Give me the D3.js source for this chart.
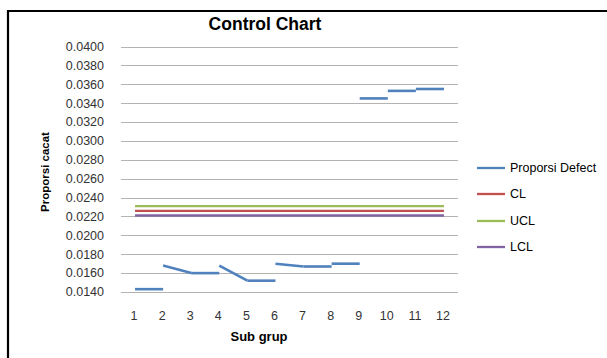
<!DOCTYPE html>
<html><head><meta charset="utf-8">
<script src="https://cdn.jsdelivr.net/npm/d3@7"></script>
<style>body{margin:0;background:#fff}svg{display:block}text{font-family:"Liberation Sans",Arial,sans-serif}</style>
</head><body>
<svg id="c" width="607" height="358"></svg>
<script>
const categories = [1,2,3,4,5,6,7,8,9,10,11,12];
const yTicks = [0.014,0.016,0.018,0.020,0.022,0.024,0.026,0.028,0.030,0.032,0.034,0.036,0.038,0.040];
// Proporsi Defect drawn as disconnected segments: value at subgroup i (start) and at i+1 (end)
const defectStart = [0.0143,0.0168,0.0160,0.0168,0.0152,0.0170,0.0167,0.0170,0.0345,0.0353,0.0355];
const defectEnd   = [0.0143,0.0160,0.0160,0.0152,0.0152,0.0167,0.0167,0.0170,0.0345,0.0353,0.0355];
const clValues  = categories.map(() => 0.0226);
const uclValues = categories.map(() => 0.0231);
const lclValues = categories.map(() => 0.0221);
const legendNames = ["Proporsi Defect","CL","UCL","LCL"];
const colors = {"Proporsi Defect":"#4f81bd","CL":"#c0504d","UCL":"#9bbb59","LCL":"#8064a2"};

const svg = d3.select("#c");
// outer frame (top and left border visible)
svg.append("line").attr("x1",7).attr("x2",607).attr("y1",11).attr("y2",11).attr("stroke","#000").attr("stroke-width",2.2);
svg.append("line").attr("x1",8).attr("x2",8).attr("y1",10).attr("y2",358).attr("stroke","#000").attr("stroke-width",2.2);

const x = d3.scaleBand().domain(categories).range([121,458]);
const cx = c => x(c) + x.bandwidth()/2;
const y = d3.scaleLinear().domain([0.014,0.040]).range([292,46.5]);

// gridlines
svg.append("g").selectAll("line").data(yTicks).join("line")
  .attr("x1",121).attr("x2",458).attr("y1",d=>Math.round(y(d))+0.5).attr("y2",d=>Math.round(y(d))+0.5)
  .attr("stroke","#b3b3b3").attr("stroke-width",1);

// y tick labels
svg.append("g").selectAll("text").data(yTicks).join("text")
  .attr("x",104).attr("y",d=>y(d)).attr("dy","0.35em").attr("text-anchor","end")
  .attr("font-size",12.5).attr("fill","#333").text(d=>d3.format(".4f")(d));

// x tick labels
svg.append("g").selectAll("text").data(categories).join("text")
  .attr("x",d=>cx(d)-1).attr("y",316).attr("dy","0.35em").attr("text-anchor","middle")
  .attr("font-size",12.5).attr("fill","#333").text(d=>d);

// control lines
const line = d3.line().x(d=>cx(d[0])).y(d=>y(d[1]));
[["UCL",uclValues],["CL",clValues],["LCL",lclValues]].forEach(([n,vals])=>{
  svg.append("path").datum(categories.map((c,i)=>[c,vals[i]]))
    .attr("d",line).attr("fill","none").attr("stroke",colors[n]).attr("stroke-width",2.3);
});

// defect segments
svg.append("g").selectAll("line").data(defectStart.map((v,i)=>({a:categories[i],b:categories[i+1],va:v,vb:defectEnd[i]})))
  .join("line")
  .attr("x1",d=>cx(d.a)).attr("x2",d=>cx(d.b)).attr("y1",d=>y(d.va)).attr("y2",d=>y(d.vb))
  .attr("stroke",colors["Proporsi Defect"]).attr("stroke-width",2.6);

// title
svg.append("text").attr("x",265).attr("y",30).attr("text-anchor","middle")
  .attr("font-size",17.5).attr("font-weight","bold").attr("fill","#000").text("Control Chart");
// axis titles
svg.append("text").attr("x",259).attr("y",341).attr("text-anchor","middle")
  .attr("font-size",13).attr("font-weight","bold").attr("fill","#000").text("Sub grup");
svg.append("text").attr("transform","translate(49,172) rotate(-90)").attr("text-anchor","middle")
  .attr("font-size",11.5).attr("font-weight","bold").attr("fill","#000").text("Proporsi cacat");

// legend
const legY = [168,194,221,247];
const lg = svg.append("g").selectAll("g").data(legendNames).join("g")
  .attr("transform",(d,i)=>`translate(0,${legY[i]})`);
lg.append("line").attr("x1",477).attr("x2",505).attr("stroke",d=>colors[d]).attr("stroke-width",2.3);
lg.append("text").attr("x",510).attr("dy","0.35em").attr("font-size",12.5).attr("fill","#000").text(d=>d);
</script>
</body></html>
